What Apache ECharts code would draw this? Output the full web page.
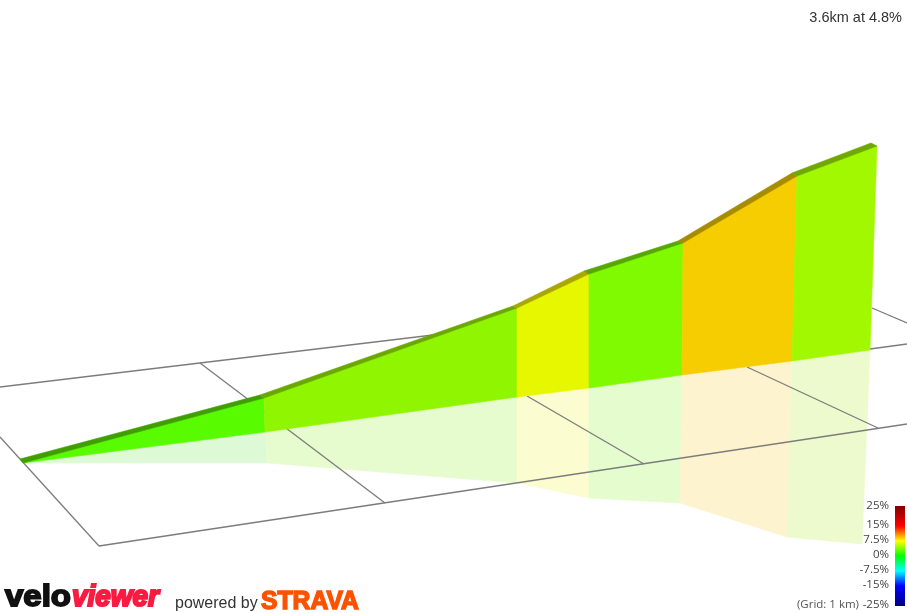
<!DOCTYPE html>
<html><head><meta charset="utf-8">
<style>html,body{margin:0;padding:0;background:#fff}#c{width:907px;height:613px}</style>
<script src="https://cdn.jsdelivr.net/npm/echarts@6/dist/echarts.min.js"></script>
</head><body><div id="c"></div>
<script>
// Projected scene values (axis units = scene units)
const summaryText = '3.6km at 4.8%';
const scaleLabels = ['25%','15%','7.5%','0%','-7.5%','-15%','-25%'];
const scaleLabelLevels = [506,525,540,555,570,585,605];
const scaleColors = ['#800000','#ff0000','#ffff00','#00ff00','#00ffff','#0000ff','#000080'];
const scaleColorStops = [0,0.2,0.35,0.5,0.65,0.8,1];

const baseLine  = [[23,463],[265,432],[517,397],[589,388],[682,375],[792,361],[870,350]];
const frontTop  = [[23,463],[264,398],[517,308],[589,274],[683,243],[797,176],[877,146]];
const backTop   = [[20,459],[260,395],[513,306],[584,271],[678,241],[792,173],[871,143]];
const shadowLow = [[23,463],[267,463],[517,483],[589,498],[680,503],[787,537],[862,544]];

const wallColors   = ['#58fb00','#90f500','#e6f700','#7ffa00','#f6cd00','#a2f800'];
const topColors    = ['#3f9f00','#6aa800','#aaa800','#56a800','#a88c00','#6ea800'];
const shadowColors = ['#def9d5','#e6fccf','#fbfccf','#e5fccf','#fdf4cf','#ecfacd'];

const gridLines = [
  [[0,387],[433,335]],
  [[99,546],[907,424]],
  [[870,349],[907,344]],
  [[0,437],[99,546]],
  [[200,363],[385,503]],
  [[527,396],[644,464]],
  [[747,367],[878,428]],
  [[872,308],[907,323]]
];

function quad(a,b,c,d){return [a,b,c,d];}
const segs = wallColors.map((_,i)=>i);

const polySeries = (name, z, getPts, getColor) => ({
  type:'custom', name, z, coordinateSystem:'cartesian2d', silent:true, clip:false,
  data: segs, encode:{x:[],y:[]},
  renderItem:(p,api)=>{
    const i = p.dataIndex;
    return {type:'polygon', shape:{points:getPts(i).map(v=>api.coord(v))},
      style:{fill:getColor(i), stroke:getColor(i), lineWidth:0.6}};
  }
});

const option = {
  animation:false,
  backgroundColor:'#fff',
  title:{text:summaryText,right:0,top:5,textStyle:{fontFamily:'Liberation Sans',fontSize:14.5,fontWeight:'normal',color:'#333'}},
  grid:{left:0,right:0,top:0,bottom:0},
  xAxis:{type:'value',min:0,max:907,show:false},
  yAxis:{type:'value',min:0,max:613,inverse:true,show:false},
  series:[
    polySeries('shadow',1,i=>quad(baseLine[i],baseLine[i+1],shadowLow[i+1],shadowLow[i]),i=>shadowColors[i]),
    {type:'custom',name:'grid',z:2,silent:true,clip:true,data:gridLines.map((_,i)=>i),encode:{x:[],y:[]},
      renderItem:(p,api)=>{
        const l=gridLines[p.dataIndex],a=api.coord(l[0]),b=api.coord(l[1]);
        return {type:'line',shape:{x1:a[0],y1:a[1],x2:b[0],y2:b[1]},style:{stroke:'#7c7c7c',lineWidth:1.3}};
      }},
    polySeries('wall',3,i=>quad(baseLine[i],baseLine[i+1],frontTop[i+1],frontTop[i]),i=>wallColors[i]),
    polySeries('top',4,i=>quad(frontTop[i],frontTop[i+1],backTop[i+1],backTop[i]),i=>topColors[i])
  ],
  graphic:[
    {type:'rect',z:10,silent:true,shape:{x:895,y:506,width:10,height:100},
      style:{fill:new echarts.graphic.LinearGradient(0,0,0,1,scaleColors.map((c,i)=>({offset:scaleColorStops[i],color:c})))}},
    ...scaleLabels.map((t,i)=>({type:'text',z:10,silent:true,x:889,y:scaleLabelLevels[i],
      style:{text:t,align:'right',verticalAlign:'middle',fontFamily:'Open Sans',fontSize:11.5,fill:'#444'}})),
    {type:'text',z:10,silent:true,x:859,y:605,style:{text:'(Grid: 1 km)',align:'right',verticalAlign:'middle',fontFamily:'Open Sans',fontSize:11.5,fill:'#555'}},
    {type:'text',z:10,silent:true,x:5,y:598,scaleX:1.1,style:{text:'velo',verticalAlign:'middle',fontFamily:'Liberation Sans',fontWeight:'bold',fontSize:30,fill:'#111',stroke:'#111',lineWidth:1.8}},
    {type:'text',z:10,silent:true,x:72,y:598,scaleX:0.93,style:{text:'viewer',verticalAlign:'middle',fontFamily:'Liberation Sans',fontWeight:'bold',fontStyle:'italic',fontSize:30,fill:'#fb1a41',stroke:'#fb1a41',lineWidth:2.2}},
    {type:'text',z:10,silent:true,x:175,y:604,style:{text:'powered by',verticalAlign:'middle',fontFamily:'Liberation Sans',fontSize:16,fill:'#333'}},
    {type:'text',z:10,silent:true,x:261,y:602,scaleX:0.95,style:{text:'STRAVA',verticalAlign:'middle',fontFamily:'Liberation Sans',fontWeight:'bold',fontSize:26,fill:'#fc5200',stroke:'#fc5200',lineWidth:1.5}}
  ]
};
echarts.init(document.getElementById('c'),null,{renderer:'canvas'}).setOption(option);
</script></body></html>
